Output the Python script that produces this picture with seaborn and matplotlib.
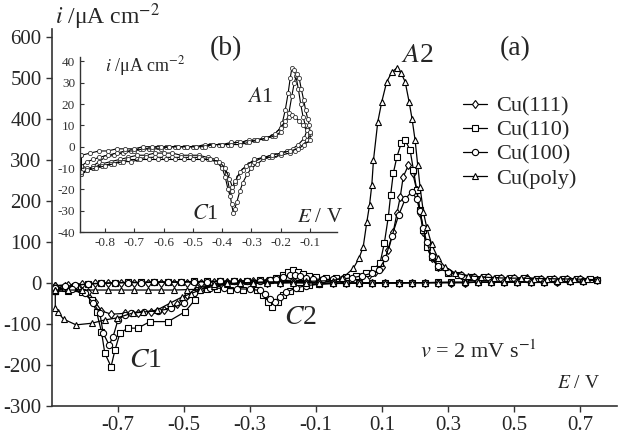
import matplotlib
matplotlib.use("Agg")
import matplotlib.pyplot as plt
import pandas as pd
import seaborn as sns

# ---- main voltammograms: anodic sweep (fwd) then cathodic sweep (rev) ----
e111_fwd = [-0.89, -0.85, -0.81, -0.77, -0.73, -0.69, -0.65, -0.61, -0.57, -0.53,
            -0.49, -0.45, -0.41, -0.37, -0.33, -0.29, -0.25, -0.21, -0.17, -0.13,
            -0.09, -0.05, -0.01, 0.03, 0.06, 0.08, 0.099, 0.119, 0.134, 0.145,
            0.155, 0.164, 0.18, 0.193, 0.205, 0.215, 0.225, 0.235, 0.25, 0.27,
            0.3, 0.34, 0.38, 0.42, 0.46, 0.5, 0.54, 0.58, 0.62, 0.66, 0.7, 0.75]
i111_fwd = [-6, -4, -2, -1, 0, 0, 1, 1, 1, 0,
            0, 1, 2, 2, 3, 4, 5, 6, 7, 6,
            6, 8, 10, 15, 20, 28, 40, 80, 125, 170,
            210, 259, 288, 268, 227, 170, 125, 90, 60, 40,
            27, 20, 16, 14, 13, 12, 12, 11, 10, 10, 9, 8]
e111_rev = [0.71, 0.67, 0.63, 0.59, 0.55, 0.51, 0.47, 0.43, 0.39, 0.35,
            0.31, 0.27, 0.23, 0.19, 0.15, 0.11, 0.07, 0.03, -0.01, -0.05,
            -0.09, -0.13, -0.17, -0.21, -0.25, -0.29, -0.33, -0.37, -0.42, -0.46,
            -0.49, -0.52, -0.56, -0.6, -0.64, -0.68, -0.72, -0.75, -0.77, -0.79,
            -0.82, -0.86, -0.89]
i111_rev = [4, 4, 3, 3, 3, 2, 2, 2, 2, 1,
            1, 1, 1, 1, 0, 0, 0, 0, 0, 0,
            0, 1, 1, 0, 0, 0, -1, -1, -3, -12,
            -30, -52, -65, -70, -72, -74, -76, -68, -45, -22,
            -12, -8, -6]

e110_fwd = [-0.89, -0.86, -0.83, -0.79, -0.75, -0.71, -0.67, -0.63, -0.59, -0.55,
            -0.51, -0.47, -0.43, -0.39, -0.35, -0.31, -0.27, -0.24, -0.22, -0.2,
            -0.185, -0.17, -0.155, -0.14, -0.12, -0.1, -0.07, -0.04, -0.01, 0.02,
            0.05, 0.075, 0.094, 0.107, 0.119, 0.126, 0.134, 0.145, 0.158, 0.17,
            0.185, 0.195, 0.205, 0.215, 0.225, 0.235, 0.25, 0.27, 0.3, 0.33,
            0.37, 0.41, 0.45, 0.49, 0.53, 0.57, 0.61, 0.65, 0.69, 0.73, 0.75]
i110_fwd = [-20, -12, -6, -2, 0, 1, 2, 2, 3, 3,
            3, 4, 4, 5, 5, 6, 7, 8, 12, 20,
            28, 32, 28, 22, 18, 15, 12, 12, 14, 18,
            24, 34, 49, 98, 162, 215, 268, 308, 341, 349,
            324, 276, 227, 178, 129, 89, 64, 40, 25, 20,
            16, 14, 13, 12, 12, 11, 11, 10, 10, 9, 8]
e110_rev = [0.71, 0.67, 0.63, 0.59, 0.55, 0.51, 0.47, 0.43, 0.39, 0.35,
            0.31, 0.27, 0.23, 0.19, 0.15, 0.11, 0.07, 0.03, -0.01, -0.05,
            -0.09, -0.12, -0.15, -0.18, -0.2, -0.215, -0.233, -0.245, -0.26, -0.28,
            -0.32, -0.36, -0.4, -0.43, -0.457, -0.467, -0.497, -0.548, -0.603, -0.64,
            -0.67, -0.694, -0.709, -0.721, -0.74, -0.75, -0.765, -0.78, -0.81, -0.85,
            -0.89]
i110_rev = [5, 4, 4, 3, 3, 3, 3, 2, 2, 2,
            2, 2, 1, 1, 1, 1, 0, 0, 0, -1,
            -2, -5, -12, -20, -30, -45, -58, -45, -28, -18,
            -17, -16, -15, -15, -17, -41, -70, -94, -94, -110,
            -110, -122, -163, -204, -171, -119, -70, -41, -21, -20,
            -20]

e100_fwd = [-0.89, -0.86, -0.83, -0.79, -0.75, -0.71, -0.67, -0.63, -0.59, -0.55,
            -0.51, -0.47, -0.43, -0.39, -0.35, -0.31, -0.27, -0.24, -0.22, -0.2,
            -0.18, -0.165, -0.15, -0.13, -0.11, -0.08, -0.05, -0.02, 0.01, 0.04,
            0.07, 0.09, 0.11, 0.13, 0.15, 0.17, 0.19, 0.205, 0.215, 0.225,
            0.235, 0.25, 0.27, 0.3, 0.34, 0.38, 0.42, 0.46, 0.5, 0.54,
            0.58, 0.62, 0.66, 0.7, 0.75]
i100_fwd = [-12, -8, -5, -2, -1, 0, 1, 1, 2, 2,
            2, 3, 3, 4, 4, 5, 6, 7, 9, 14,
            19, 20, 17, 13, 10, 9, 9, 10, 13, 18,
            24, 32, 60, 115, 165, 205, 223, 205, 175, 135,
            100, 65, 42, 27, 20, 16, 14, 13, 12, 11,
            11, 10, 10, 9, 8]
e100_rev = [0.71, 0.67, 0.63, 0.59, 0.55, 0.51, 0.47, 0.43, 0.39, 0.35,
            0.31, 0.27, 0.23, 0.19, 0.15, 0.11, 0.07, 0.03, -0.01, -0.05,
            -0.09, -0.13, -0.16, -0.19, -0.21, -0.225, -0.24, -0.255, -0.27, -0.3,
            -0.34, -0.38, -0.42, -0.45, -0.47, -0.5, -0.54, -0.58, -0.62, -0.66,
            -0.68, -0.7, -0.715, -0.727, -0.745, -0.755, -0.775, -0.8, -0.84, -0.89]
i100_rev = [4, 4, 3, 3, 3, 2, 2, 2, 2, 1,
            1, 1, 1, 1, 0, 0, 0, 0, -1, -1,
            -3, -6, -12, -22, -34, -45, -38, -26, -18, -15,
            -14, -13, -12, -14, -25, -49, -62, -68, -70, -72,
            -78, -90, -131, -151, -122, -73, -49, -25, -15, -12]

epoly_fwd = [-0.89, -0.85, -0.81, -0.77, -0.73, -0.69, -0.65, -0.61, -0.57, -0.53,
             -0.49, -0.45, -0.41, -0.37, -0.33, -0.29, -0.25, -0.21, -0.17, -0.13,
             -0.09, -0.05, -0.02, 0.013, 0.03, 0.043, 0.054, 0.062, 0.069, 0.074,
             0.087, 0.099, 0.114, 0.13, 0.145, 0.158, 0.17, 0.182, 0.191, 0.2,
             0.208, 0.215, 0.225, 0.235, 0.25, 0.27, 0.29, 0.32, 0.36, 0.4,
             0.44, 0.48, 0.52, 0.56, 0.6, 0.64, 0.68, 0.72, 0.75]
ipoly_fwd = [-17, -17, -17, -17, -17, -17, -17, -17, -17, -17,
             -16, -15, -8, -3, 0, 2, 3, 3, 4, 4,
             5, 6, 12, 36, 60, 89, 150, 190, 240, 300,
             393, 442, 491, 515, 525, 512, 491, 442, 400, 349,
             288, 235, 174, 137, 95, 60, 40, 25, 18, 15,
             13, 12, 12, 11, 11, 10, 10, 9, 8]
epoly_rev = [0.71, 0.67, 0.63, 0.59, 0.55, 0.51, 0.47, 0.43, 0.39, 0.35,
             0.31, 0.27, 0.23, 0.19, 0.15, 0.11, 0.07, 0.03, -0.01, -0.05,
             -0.09, -0.13, -0.17, -0.21, -0.25, -0.29, -0.33, -0.37, -0.41, -0.452,
             -0.48, -0.506, -0.542, -0.582, -0.624, -0.655, -0.703, -0.74, -0.779, -0.827,
             -0.865, -0.882, -0.89]
ipoly_rev = [5, 4, 4, 3, 3, 3, 2, 2, 2, 2,
             2, 1, 1, 1, 1, 1, 0, 0, 0, 0,
             0, 0, 1, 1, 0, 0, 0, -1, -3, -17,
             -26, -34, -49, -66, -71, -73, -85, -90, -98, -102,
             -88, -71, -62]

electrodes = ["Cu(111)", "Cu(110)", "Cu(100)", "Cu(poly)"]
marker_map = {"Cu(111)": "d", "Cu(110)": "s", "Cu(100)": "o", "Cu(poly)": "^"}

# ---- inset (b): three small loops ----
eb1_fwd = [-0.88, -0.86, -0.84, -0.82, -0.80, -0.77, -0.74, -0.71, -0.68, -0.65,
           -0.62, -0.59, -0.56, -0.53, -0.50, -0.47, -0.44, -0.41, -0.38, -0.35,
           -0.32, -0.29, -0.26, -0.23, -0.21, -0.195, -0.185, -0.175, -0.168, -0.162,
           -0.155, -0.148, -0.14, -0.132, -0.124, -0.116, -0.11]
ib1_fwd = [-13, -11, -9, -7, -5, -4, -3, -2, -1, -1,
           0, 0, 0, 0, 0, 0, 1, 1, 1, 2,
           2, 3, 4, 5, 7, 11, 17, 25, 32, 37,
           36, 33, 27, 20, 14, 10, 8]
eb1_rev = [-0.12, -0.14, -0.16, -0.18, -0.2, -0.22, -0.24, -0.26, -0.28, -0.3,
           -0.315, -0.33, -0.34, -0.35, -0.357, -0.362, -0.368, -0.375, -0.385, -0.4,
           -0.42, -0.45, -0.48, -0.51, -0.54, -0.57, -0.6, -0.63, -0.66, -0.69,
           -0.72, -0.75, -0.78, -0.81, -0.84, -0.86, -0.88]
ib1_rev = [4, 1, -1, -2, -3, -4, -5, -6, -8, -10,
           -13, -17, -21, -26, -29, -31, -27, -20, -13, -8,
           -6, -5, -4, -4, -4, -3, -3, -3, -4, -4,
           -5, -6, -7, -8, -10, -11, -13]

eb2_fwd = [-0.88, -0.86, -0.84, -0.82, -0.79, -0.76, -0.73, -0.70, -0.67, -0.64,
           -0.61, -0.58, -0.55, -0.52, -0.49, -0.46, -0.43, -0.40, -0.37, -0.34,
           -0.31, -0.28, -0.25, -0.22, -0.2, -0.185, -0.172, -0.162, -0.154, -0.145,
           -0.137, -0.13, -0.122, -0.115, -0.108, -0.102]
ib2_fwd = [-9, -7, -6, -5, -4, -3, -2, -2, -1, -1,
           -1, 0, 0, 0, 0, 1, 1, 1, 2, 2,
           3, 3, 4, 5, 7, 10, 16, 24, 30, 34,
           32, 27, 22, 17, 13, 10]
eb2_rev = [-0.1, -0.11, -0.13, -0.15, -0.17, -0.2, -0.23, -0.26, -0.29, -0.31,
           -0.33, -0.345, -0.355, -0.365, -0.373, -0.38, -0.39, -0.4, -0.42, -0.45,
           -0.48, -0.51, -0.54, -0.57, -0.6, -0.63, -0.66, -0.69, -0.72, -0.75,
           -0.78, -0.81, -0.84, -0.86, -0.88]
ib2_rev = [6, 3, 0, -2, -3, -4, -5, -5, -7, -8,
           -11, -14, -17, -21, -23, -20, -14, -10, -7, -6,
           -5, -5, -5, -5, -5, -5, -5, -6, -6, -7,
           -8, -9, -10, -10, -9]

eb3_fwd = [-0.88, -0.85, -0.82, -0.79, -0.76, -0.73, -0.70, -0.67, -0.64, -0.61,
           -0.58, -0.55, -0.52, -0.49, -0.46, -0.43, -0.40, -0.37, -0.34, -0.31,
           -0.28, -0.25, -0.22, -0.2, -0.185, -0.172, -0.162, -0.15, -0.138, -0.125,
           -0.112, -0.1]
ib3_fwd = [-4, -3, -2, -2, -1, -1, -1, 0, 0, 0,
           0, 0, 0, 0, 0, 1, 1, 1, 1, 2,
           3, 4, 6, 9, 12, 14, 15, 14, 12, 10,
           8, 7]
eb3_rev = [-0.1, -0.12, -0.14, -0.17, -0.2, -0.23, -0.26, -0.29, -0.32, -0.34,
           -0.355, -0.365, -0.375, -0.39, -0.41, -0.44, -0.47, -0.5, -0.53, -0.56,
           -0.59, -0.62, -0.65, -0.68, -0.71, -0.74, -0.77, -0.8, -0.83, -0.86,
           -0.88]
ib3_rev = [3, 1, -1, -2, -3, -4, -5, -6, -9, -12,
           -16, -19, -15, -10, -7, -6, -6, -6, -6, -6,
           -6, -6, -6, -6, -7, -7, -8, -9, -10, -11,
           -12]

main_ticks_x = [-0.7, -0.5, -0.3, -0.1, 0.1, 0.3, 0.5, 0.7]
main_ticks_y = [-300, -200, -100, 0, 100, 200, 300, 400, 500, 600]
inset_ticks_x = [-0.8, -0.7, -0.6, -0.5, -0.4, -0.3, -0.2, -0.1]
inset_ticks_y = [-40, -30, -20, -10, 0, 10, 20, 30, 40]


def loop_frame(name, e_fwd, i_fwd, e_rev, i_rev):
    """One closed CV loop in drawing order"""
    e = e_fwd + e_rev + e_fwd[:1]
    cur = i_fwd + i_rev + i_fwd[:1]
    return pd.DataFrame({"E": e, "i": cur, "curve": name})


main_df = pd.concat([
    loop_frame("Cu(111)", e111_fwd, i111_fwd, e111_rev, i111_rev),
    loop_frame("Cu(110)", e110_fwd, i110_fwd, e110_rev, i110_rev),
    loop_frame("Cu(100)", e100_fwd, i100_fwd, e100_rev, i100_rev),
    loop_frame("Cu(poly)", epoly_fwd, ipoly_fwd, epoly_rev, ipoly_rev),
], ignore_index=True)

inset_df = pd.concat([
    loop_frame("b1", eb1_fwd, ib1_fwd, eb1_rev, ib1_rev),
    loop_frame("b2", eb2_fwd, ib2_fwd, eb2_rev, ib2_rev),
    loop_frame("b3", eb3_fwd, ib3_fwd, eb3_rev, ib3_rev),
], ignore_index=True)

sns.set_style("ticks")
plt.rcParams["font.family"] = ["Liberation Serif", "DejaVu Serif"]
plt.rcParams["mathtext.fontset"] = "stix"
plt.rcParams["axes.unicode_minus"] = False

fig = plt.figure(figsize=(6.3, 4.34), dpi=100)
ax = fig.add_axes([0.0825, 0.0645, 0.897, 0.8687])

sns.lineplot(data=main_df, x="E", y="i", style="curve", style_order=electrodes,
             markers=marker_map, dashes=False, sort=False, estimator=None,
             color="black", lw=0.9, markersize=4.5, markerfacecolor="white",
             markeredgecolor="black", markeredgewidth=0.8, ax=ax)

ax.set_xlim(-0.9, 0.812)
ax.set_ylim(-300, 620)
ax.set_xticks(main_ticks_x)
ax.set_xticklabels([f"{v:.1f}" for v in main_ticks_x])
ax.set_yticks(main_ticks_y)
ax.set_yticklabels([str(v) for v in main_ticks_y])
ax.tick_params(labelsize=15, length=4, width=1.0, color="#333333", direction="out")
ax.set_xlabel("")
ax.set_ylabel("")
sns.despine(ax=ax)
for s in ["left", "bottom"]:
    ax.spines[s].set_linewidth(1.2)
    ax.spines[s].set_color("#333333")

handles, labels = ax.get_legend_handles_labels()
for h in handles:
    h.set_color("black")
    h.set_markerfacecolor("white")
    h.set_markeredgecolor("black")
    h.set_linewidth(0.9)
ax.legend(handles, labels, loc="upper left", bbox_to_anchor=(463 / 630, 1 - 96 / 434),
          bbox_transform=fig.transFigure, frameon=False, fontsize=16,
          handlelength=1.1, handletextpad=0.4, labelspacing=0.16, borderpad=0,
          borderaxespad=0)

ax.text(-0.733, 649, "$i$ /μA cm$^{-2}$", fontsize=17, ha="center", va="center")
ax.text(0.206, 556, "$A$2", fontsize=20, ha="center", va="center")
ax.text(0.503, 573, "(a)", fontsize=20, ha="center", va="center")
ax.text(-0.148, -85, "$C$2", fontsize=20, ha="center", va="center")
ax.text(-0.618, -188, "$C$1", fontsize=20, ha="center", va="center")
ax.text(0.391, -168, "$v$ = 2 mV s$^{-1}$", fontsize=16, ha="center", va="center")
ax.text(0.694, -246, "$E$ / V", fontsize=14, ha="center", va="center")
ax.text(-0.373, 573, "(b)", fontsize=20, ha="center", va="center")

# inset
axb = fig.add_axes([0.127, 0.4654, 0.408, 0.403])
axb.patch.set_alpha(0)
sns.lineplot(data=inset_df, x="E", y="i", units="curve", sort=False, estimator=None,
             color="black", lw=0.8, marker="o", markersize=3,
             markerfacecolor="white", markeredgecolor="#333333",
             markeredgewidth=0.6, legend=False, ax=axb)
axb.set_xlim(-0.885, -0.008)
axb.set_ylim(-40, 42)
axb.set_xticks(inset_ticks_x)
axb.set_xticklabels([f"{v:.1f}" for v in inset_ticks_x])
axb.set_yticks(inset_ticks_y)
axb.set_yticklabels([str(v) for v in inset_ticks_y])
axb.tick_params(labelsize=9.5, length=3, width=0.8, direction="in",
                color="#333333", labelcolor="#333333")
axb.set_xlabel("")
axb.set_ylabel("")
sns.despine(ax=axb)
for s in ["left", "bottom"]:
    axb.spines[s].set_linewidth(1.0)
    axb.spines[s].set_color("#333333")

axb.text(-0.663, 38, "$i$ /μA cm$^{-2}$", fontsize=13, ha="center", va="center")
axb.text(-0.271, 23, "$A$1", fontsize=16, ha="center", va="center")
axb.text(-0.458, -31.6, "$C$1", fontsize=16, ha="center", va="center")
axb.text(-0.066, -33, "$E$ / V", fontsize=15, ha="center", va="center")

fig.savefig("out.png", dpi=100)
